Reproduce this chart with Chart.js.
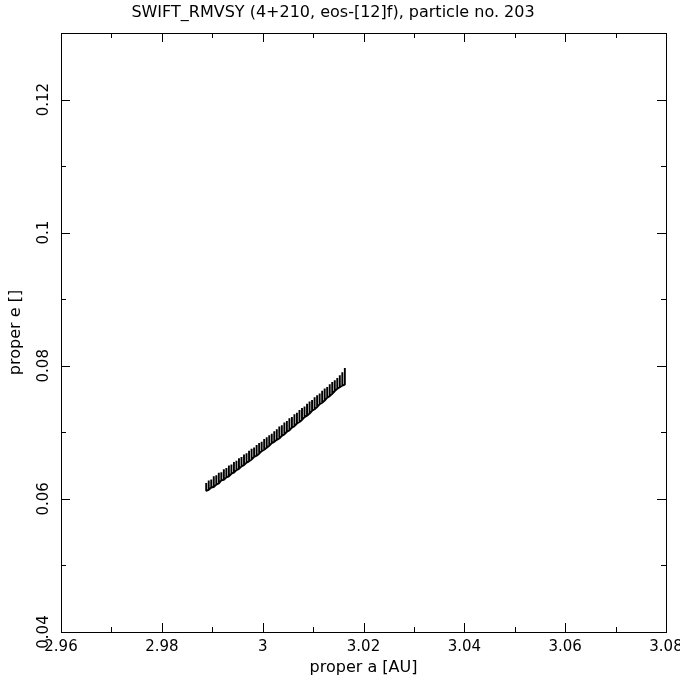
<!DOCTYPE html>
<html>
<head>
<meta charset="utf-8">
<script src="https://cdn.jsdelivr.net/npm/chart.js@4/dist/chart.umd.min.js"></script>
<style>
  html, body { margin: 0; padding: 0; background: #fff; }
</style>
</head>
<body>
<canvas id="myChart" width="680" height="680"></canvas>
<script>
// proper a [AU] of each oscillation hatch
var aVals = [2.9888, 2.9893, 2.9898, 2.9903, 2.9908, 2.9913, 2.9918, 2.9923, 2.9928, 2.9933,
  2.9938, 2.9943, 2.9948, 2.9953, 2.9958, 2.9963, 2.9968, 2.9973, 2.9978, 2.9983,
  2.9988, 2.9993, 2.9998, 3.0003, 3.0008, 3.0013, 3.0018, 3.0023, 3.0028, 3.0033,
  3.0038, 3.0043, 3.0048, 3.0053, 3.0058, 3.0063, 3.0068, 3.0073, 3.0078, 3.0083,
  3.0088, 3.0093, 3.0098, 3.0103, 3.0108, 3.0113, 3.0118, 3.0123, 3.0128, 3.0133,
  3.0138, 3.0143, 3.0148, 3.0153, 3.0158, 3.0163];
// proper e, low end of each hatch
var eLow = [0.06120, 0.06136, 0.06172, 0.06179, 0.06215, 0.06232, 0.06279, 0.06286, 0.06323, 0.06340,
  0.06378, 0.06395, 0.06433, 0.06451, 0.06489, 0.06507, 0.06545, 0.06564, 0.06592, 0.06631,
  0.06650, 0.06679, 0.06718, 0.06738, 0.06767, 0.06797, 0.06837, 0.06857, 0.06887, 0.06907,
  0.06948, 0.06968, 0.07009, 0.07030, 0.07071, 0.07092, 0.07133, 0.07155, 0.07186, 0.07228,
  0.07250, 0.07282, 0.07324, 0.07347, 0.07379, 0.07422, 0.07445, 0.07478, 0.07521, 0.07544,
  0.07578, 0.07621, 0.07655, 0.07679, 0.07703, 0.07717];
// proper e, high end of each hatch
var eHigh = [0.06240, 0.06276, 0.06292, 0.06339, 0.06355, 0.06392, 0.06399, 0.06446, 0.06463, 0.06500,
  0.06518, 0.06555, 0.06573, 0.06611, 0.06629, 0.06667, 0.06685, 0.06724, 0.06752, 0.06771,
  0.06810, 0.06839, 0.06858, 0.06898, 0.06927, 0.06957, 0.06977, 0.07017, 0.07047, 0.07087,
  0.07108, 0.07148, 0.07169, 0.07210, 0.07231, 0.07272, 0.07293, 0.07335, 0.07366, 0.07388,
  0.07430, 0.07462, 0.07484, 0.07527, 0.07559, 0.07582, 0.07625, 0.07658, 0.07681, 0.07724,
  0.07758, 0.07781, 0.07815, 0.07859, 0.07903, 0.07967];

var xTicks = [2.96, 2.98, 3.00, 3.02, 3.04, 3.06, 3.08];
var xTickLabels = ['2.96', '2.98', '3', '3.02', '3.04', '3.06', '3.08'];
var yTicks = [0.04, 0.06, 0.08, 0.10, 0.12];
var yTickLabels = ['0.04', '0.06', '0.08', '0.1', '0.12'];

window.onload = function() {
  var ctx = document.getElementById('myChart').getContext('2d');

  Chart.defaults.font.family = 'DejaVu Sans';
  Chart.defaults.font.size = 15;
  Chart.defaults.color = '#000';

  // comb path: up and back down at each a, then step on
  var pts = [];
  for (var i = 0; i < aVals.length; i++) {
    pts.push({x: aVals[i], y: eLow[i]});
    pts.push({x: aVals[i], y: eHigh[i]});
    pts.push({x: aVals[i], y: eLow[i]});
  }

  // frame with inward ticks on all four sides
  var frame = {
    id: 'frame',
    afterDraw: function(chart) {
      var c = chart.ctx, ar = chart.chartArea;
      var sx = chart.scales.x, sy = chart.scales.y;
      c.save();
      c.strokeStyle = '#000';
      c.lineWidth = 1;
      c.strokeRect(Math.round(ar.left) + 0.5, Math.round(ar.top) + 0.5,
        Math.round(ar.right - ar.left), Math.round(ar.bottom - ar.top));
      c.beginPath();
      function xt(v, len) {
        var p = Math.round(sx.getPixelForValue(v)) + 0.5;
        c.moveTo(p, ar.bottom); c.lineTo(p, ar.bottom - len);
        c.moveTo(p, ar.top); c.lineTo(p, ar.top + len);
      }
      function yt(v, len) {
        var p = Math.round(sy.getPixelForValue(v)) + 0.5;
        c.moveTo(ar.left, p); c.lineTo(ar.left + len, p);
        c.moveTo(ar.right, p); c.lineTo(ar.right - len, p);
      }
      for (var i = 0; i < xTicks.length; i++) {
        xt(xTicks[i], 9);
        if (i < xTicks.length - 1) xt((xTicks[i] + xTicks[i + 1]) / 2, 5);
      }
      for (var j = 0; j < yTicks.length; j++) {
        yt(yTicks[j], 9);
        yt(yTicks[j] + 0.01, 5);
      }
      c.stroke();
      c.restore();
    }
  };

  var params = {
    type: 'scatter',
    data: {
      datasets: [{
        label: 'particle 203',
        data: pts,
        showLine: true,
        borderColor: '#000',
        backgroundColor: '#000',
        borderWidth: 1.9,
        borderJoinStyle: 'bevel',
        pointRadius: 0,
        tension: 0
      }]
    },
    options: {
      responsive: false,
      animation: false,
      layout: { padding: { left: 0, right: 14, top: 0, bottom: 0 } },
      plugins: {
        legend: { display: false },
        tooltip: { enabled: false },
        title: {
          display: true,
          text: 'SWIFT_RMVSY (4+210, eos-[12]f), particle no. 203',
          font: { size: 16, weight: 'normal' },
          color: '#000',
          padding: { top: 3, bottom: 10.8 }
        }
      },
      scales: {
        x: {
          type: 'linear',
          min: 2.96,
          max: 3.08,
          grid: { display: false, drawTicks: false },
          border: { display: false },
          afterBuildTicks: function(s) { s.ticks = xTicks.map(function(v) { return {value: v}; }); },
          afterFit: function(s) { s.height = 48; s.paddingLeft = 0; s.paddingRight = 0; },
          ticks: {
            padding: 6,
            maxRotation: 0,
            autoSkip: false,
            callback: function(v, i) { return xTickLabels[i]; }
          },
          title: { display: true, text: 'proper a [AU]', font: { size: 16 }, padding: { top: 0, bottom: 2.4 } }
        },
        y: {
          type: 'linear',
          min: 0.04,
          max: 0.13,
          grid: { display: false, drawTicks: false },
          border: { display: false },
          afterBuildTicks: function(s) { s.ticks = yTicks.map(function(v) { return {value: v}; }); },
          afterFit: function(s) { s.width = 61; s.paddingTop = 0; s.paddingBottom = 0; },
          ticks: {
            padding: 0,
            minRotation: 90,
            maxRotation: 90,
            crossAlign: 'center',
            autoSkip: false,
            callback: function(v, i) { return yTickLabels[i]; }
          },
          title: { display: true, text: 'proper e []', font: { size: 16 }, padding: { top: 6.4, bottom: 0 } }
        }
      }
    },
    plugins: [frame]
  };

  var chart = new Chart(ctx, params);
};
</script>
</body>
</html>
